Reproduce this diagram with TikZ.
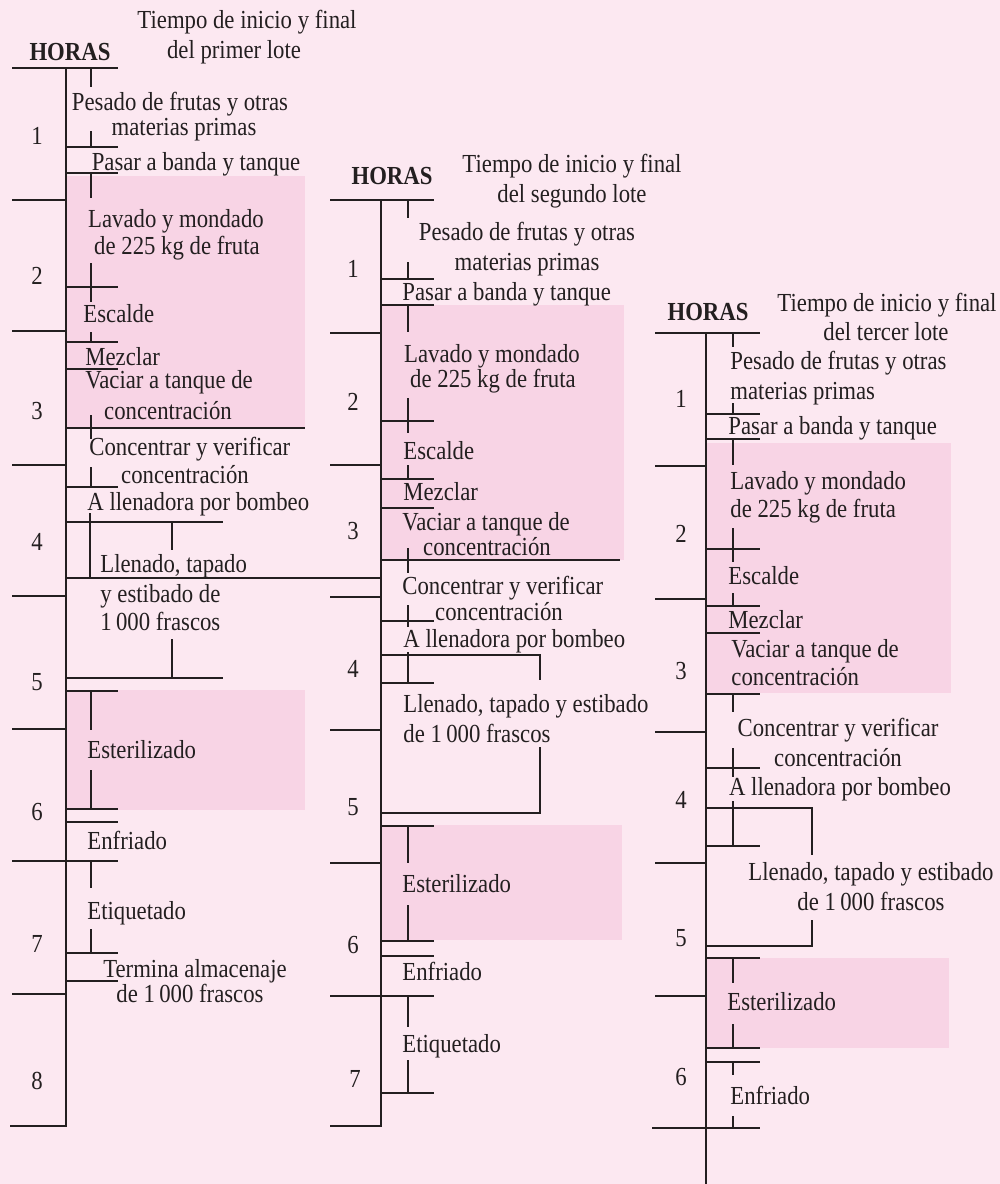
\documentclass[tikz,border=0pt]{standalone}
\usepackage{fontspec}
\setmainfont{Liberation Serif}[FakeStretch=0.875]
\definecolor{bg}{RGB}{252,232,241}
\definecolor{bx}{RGB}{248,212,229}
\definecolor{ink}{RGB}{35,31,32}
\newcommand\tc[4]{\node[txt,anchor=base] (#1) at (#2,#3) {#4};}
\newcommand\tl[4]{\node[txt,anchor=base west] (#1) at (#2,#3) {#4};}
\begin{document}
\begin{tikzpicture}[x=0.5pt,y=-0.5pt,
  ln/.style={draw=ink,line width=1.15pt},
  pinkbox/.style={fill=bx,draw=none},
  txt/.style={font=\fontsize{13}{15.6}\selectfont,text=ink,inner sep=0pt}]
\fill[bg] (0,0) rectangle (1000,1184);
\useasboundingbox (0,0) rectangle (1000,1184);
% pink boxes
\fill[pinkbox] (66,176) rectangle (305,428);
\fill[pinkbox] (66,690) rectangle (305,810);
\fill[pinkbox] (381,305) rectangle (624,560);
\fill[pinkbox] (381,825) rectangle (622,940);
\fill[pinkbox] (706,443) rectangle (951,693);
\fill[pinkbox] (706,958) rectangle (949,1048);
% ---------------- column 1 ----------------
\draw[ln] (12,68) -- (118,68);
\draw[ln] (66,68) -- (66,1126) -- (10,1126);
\foreach \y in {200,331,465,596,729,994} \draw[ln] (12,\y) -- (66,\y);
\draw[ln] (12,861) -- (118,861);
\draw[ln] (91,68) -- (91,87);
\draw[ln] (91,131) -- (91,147); \draw[ln] (66,147) -- (118,147);
\draw[ln] (66,173) -- (118,173); \draw[ln] (91,173) -- (91,198);
\draw[ln] (91,263) -- (91,302); \draw[ln] (66,287) -- (118,287);
\draw[ln] (91,332) -- (91,342); \draw[ln] (66,342) -- (118,342);
\draw[ln] (66,369) -- (118,369);
\draw[ln] (66,428) -- (305,428);
\draw[ln] (91,415) -- (91,439);
\draw[ln] (91,467) -- (91,487); \draw[ln] (66,487) -- (118,487);
\draw[ln] (66,522) -- (223,522); \draw[ln] (172,522) -- (172,550);
\draw[ln] (90,513) -- (90,578);
\draw[ln] (66,578) -- (381,578);
\draw[ln] (172,639) -- (172,678); \draw[ln] (66,678) -- (223,678);
\draw[ln] (66,691) -- (118,691); \draw[ln] (91,691) -- (91,730);
\draw[ln] (91,770) -- (91,809); \draw[ln] (66,809) -- (118,809);
\draw[ln] (66,822) -- (118,822);
\draw[ln] (91,861) -- (91,888);
\draw[ln] (91,929) -- (91,953); \draw[ln] (66,953) -- (118,953);
\draw[ln] (66,981) -- (118,981);
% ---------------- column 2 ----------------
\draw[ln] (330,200) -- (434,200);
\draw[ln] (381,200) -- (381,1126) -- (330,1126);
\foreach \y in {333,465,597,730,863} \draw[ln] (330,\y) -- (381,\y);
\draw[ln] (330,996) -- (434,996);
\draw[ln] (408,200) -- (408,218);
\draw[ln] (408,262) -- (408,279); \draw[ln] (381,279) -- (434,279);
\draw[ln] (381,305) -- (434,305); \draw[ln] (408,305) -- (408,332);
\draw[ln] (408,398) -- (408,433); \draw[ln] (381,421) -- (434,421);
\draw[ln] (408,465) -- (408,479); \draw[ln] (381,479) -- (434,479);
\draw[ln] (381,508) -- (434,508);
\draw[ln] (381,560) -- (620,560);
\draw[ln] (408,548) -- (408,573);
\draw[ln] (408,605) -- (408,627); \draw[ln] (381,621) -- (434,621);
\draw[ln] (381,655) -- (540,655) -- (540,680);
\draw[ln] (408,652) -- (408,683); \draw[ln] (381,683) -- (434,683);
\draw[ln] (540,747) -- (540,813) -- (381,813);
\draw[ln] (381,826) -- (434,826); \draw[ln] (408,826) -- (408,863);
\draw[ln] (408,905) -- (408,941); \draw[ln] (381,941) -- (434,941);
\draw[ln] (381,956) -- (434,956);
\draw[ln] (408,996) -- (408,1027);
\draw[ln] (408,1060) -- (408,1093); \draw[ln] (381,1093) -- (434,1093);
% ---------------- column 3 ----------------
\draw[ln] (655,333) -- (760,333);
\draw[ln] (706,333) -- (706,1184);
\foreach \y in {466,599,732,863,996} \draw[ln] (655,\y) -- (706,\y);
\draw[ln] (652,1128) -- (760,1128);
\draw[ln] (733,333) -- (733,347);
\draw[ln] (733,403) -- (733,414); \draw[ln] (706,414) -- (760,414);
\draw[ln] (706,439) -- (760,439); \draw[ln] (733,439) -- (733,465);
\draw[ln] (733,528) -- (733,562); \draw[ln] (706,549) -- (760,549);
\draw[ln] (733,593) -- (733,606); \draw[ln] (706,606) -- (760,606);
\draw[ln] (706,633) -- (760,633);
\draw[ln] (706,694) -- (760,694); \draw[ln] (733,694) -- (733,712);
\draw[ln] (733,748) -- (733,777); \draw[ln] (706,768) -- (760,768);
\draw[ln] (706,808) -- (812,808) -- (812,855);
\draw[ln] (733,801) -- (733,846); \draw[ln] (706,846) -- (760,846);
\draw[ln] (812,920) -- (812,946) -- (706,946);
\draw[ln] (706,958) -- (760,958); \draw[ln] (733,958) -- (733,983);
\draw[ln] (733,1024) -- (733,1048); \draw[ln] (706,1048) -- (760,1048);
\draw[ln] (706,1062) -- (760,1062); \draw[ln] (733,1062) -- (733,1075);
\draw[ln] (733,1116) -- (733,1128);
% ---------------- texts column 1 ----------------
\tc{ah1}{247}{28}{Tiempo de inicio y final}
\tc{ah2}{234}{58}{del primer lote}
\tc{ahr}{70}{60}{\textbf{HORAS}}
\tc{an1}{37}{144}{1}
\tc{an2}{37}{284}{2}
\tc{an3}{37}{419}{3}
\tc{an4}{37}{550}{4}
\tc{an5}{37}{690}{5}
\tc{an6}{37}{820}{6}
\tc{an7}{37}{952}{7}
\tc{an8}{37}{1089}{8}
\tc{aa1}{180}{110}{Pesado de frutas y otras}
\tc{aa2}{184}{135}{materias primas}
\tc{ab}{196}{170}{Pasar a banda y tanque}
\tc{ac1}{176}{227}{Lavado y mondado}
\tc{ac2}{177}{254}{de 225 kg de fruta}
\tl{ad}{83}{322}{Escalde}
\tl{ae}{85}{365}{Mezclar}
\tl{af1}{85}{388}{Vaciar a tanque de}
\tc{af2}{168}{419}{concentración}
\tl{ag1}{89}{455}{Concentrar y verificar}
\tc{ag2}{185}{483}{concentración}
\tl{ah}{87}{510}{A llenadora por bombeo}
\tl{ai1}{100}{572}{Llenado, tapado}
\tl{ai2}{100}{602}{y estibado de}
\tl{ai3}{100}{630}{1\,000 frascos}
\tl{aj}{87}{758}{Esterilizado}
\tl{ak}{87}{849}{Enfriado}
\tl{al}{87}{919}{Etiquetado}
\tc{am1}{195}{977}{Termina almacenaje}
\tc{am2}{190}{1002}{de 1\,000 frascos}
% ---------------- texts column 2 ----------------
\tc{bh1}{572}{172}{Tiempo de inicio y final}
\tc{bh2}{572}{202}{del segundo lote}
\tc{bhr}{392}{184}{\textbf{HORAS}}
\tc{bn1}{353}{277}{1}
\tc{bn2}{353}{410}{2}
\tc{bn3}{353}{539}{3}
\tc{bn4}{353}{677}{4}
\tc{bn5}{353}{815}{5}
\tc{bn6}{353}{953}{6}
\tc{bn7}{355}{1087}{7}
\tc{ba1}{527}{240}{Pesado de frutas y otras}
\tc{ba2}{527}{270}{materias primas}
\tl{bb}{402}{300}{Pasar a banda y tanque}
\tc{bc1}{492}{362}{Lavado y mondado}
\tc{bc2}{493}{387}{de 225 kg de fruta}
\tl{bd}{403}{459}{Escalde}
\tl{be}{403}{500}{Mezclar}
\tl{bf1}{402}{530}{Vaciar a tanque de}
\tc{bf2}{487}{555}{concentración}
\tl{bg1}{402}{594}{Concentrar y verificar}
\tc{bg2}{499}{620}{concentración}
\tl{bhh}{403}{647}{A llenadora por bombeo}
\tl{bi1}{403}{712}{Llenado, tapado y estibado}
\tl{bi2}{403}{742}{de 1\,000 frascos}
\tl{bj}{402}{892}{Esterilizado}
\tl{bk}{402}{980}{Enfriado}
\tl{bl}{402}{1052}{Etiquetado}
% ---------------- texts column 3 ----------------
\tc{ch1}{887}{311}{Tiempo de inicio y final}
\tc{ch2}{886}{340}{del tercer lote}
\tc{chr}{708}{320}{\textbf{HORAS}}
\tc{cn1}{681}{407}{1}
\tc{cn2}{681}{542}{2}
\tc{cn3}{681}{679}{3}
\tc{cn4}{681}{808}{4}
\tc{cn5}{681}{946}{5}
\tc{cn6}{681}{1085}{6}
\tl{ca1}{730}{369}{Pesado de frutas y otras}
\tl{ca2}{730}{399}{materias primas}
\tl{cb}{728}{434}{Pasar a banda y tanque}
\tl{cc1}{730}{489}{Lavado y mondado}
\tl{cc2}{730}{517}{de 225 kg de fruta}
\tl{cd}{728}{584}{Escalde}
\tl{ce}{728}{628}{Mezclar}
\tl{cf1}{731}{657}{Vaciar a tanque de}
\tl{cf2}{731}{685}{concentración}
\tc{cg1}{838}{736}{Concentrar y verificar}
\tc{cg2}{838}{766}{concentración}
\tc{chh}{840}{795}{A llenadora por bombeo}
\tc{ci1}{871}{880}{Llenado, tapado y estibado}
\tc{ci2}{871}{910}{de 1\,000 frascos}
\tl{cj}{727}{1010}{Esterilizado}
\tl{ck}{730}{1104}{Enfriado}
\end{tikzpicture}
\end{document}
